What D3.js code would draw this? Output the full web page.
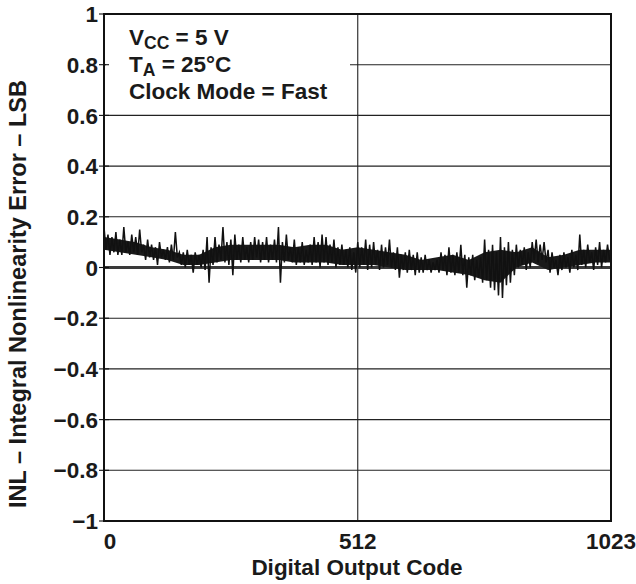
<!DOCTYPE html>
<html><head><meta charset="utf-8">
<script src="https://cdn.jsdelivr.net/npm/d3@7"></script>
<style>
body{margin:0;background:#fff;}
text{font-family:"Liberation Sans",Arial,Helvetica,sans-serif;font-weight:bold;fill:#1a1a1a;}
</style></head>
<body>
<svg id="c" width="636" height="584"></svg>
<script>
// ---- data ----
const yTicks = [-1, -0.8, -0.6, -0.4, -0.2, 0, 0.2, 0.4, 0.6, 0.8, 1];
const yTickLabels = ["\u22121", "\u22120.8", "\u22120.6", "\u22120.4", "\u22120.2", "0", "0.2", "0.4", "0.6", "0.8", "1"];
const xTicks = [0, 512, 1023];
const xTickLabels = ["0", "512", "1023"];
const codeStep = 4;
const inl = [
 0.16,0.07,0.13,0.05,0.12,0.06,0.14,0.05,
 0.11,0.05,0.16,0.06,0.10,0.05,0.13,0.06,
 0.12,0.05,0.15,0.06,0.09,0.03,0.11,0.04,
 0.09,0.03,0.08,0.01,0.10,0.04,0.07,0.03,
 0.08,0.02,0.09,0.03,0.14,0.04,0.06,0.01,
 0.06,0.00,0.07,0.01,0.05,-0.02,0.06,0.01,
 0.05,0.00,0.07,-0.01,0.12,-0.06,0.08,0.01,
 0.12,0.02,0.09,0.03,0.16,0.02,0.10,0.01,
 0.11,-0.03,0.13,0.03,0.09,0.02,0.12,0.03,
 0.08,0.02,0.10,0.03,0.12,0.04,0.11,0.02,
 0.10,0.03,0.12,0.02,0.09,0.03,0.11,0.02,
 0.16,-0.06,0.10,0.02,0.13,0.03,0.08,0.02,
 0.11,0.01,0.08,0.02,0.10,0.01,0.07,0.02,
 0.09,0.01,0.12,0.02,0.10,0.00,0.13,0.02,
 0.12,0.01,0.09,0.02,0.11,0.00,0.08,0.01,
 0.09,0.01,0.07,0.00,0.08,-0.01,0.06,-0.02,
 0.10,0.00,0.08,0.01,0.11,-0.01,0.09,0.00,
 0.10,0.01,0.07,-0.01,0.09,0.00,0.08,0.01,
 0.11,0.00,0.06,-0.01,0.08,-0.04,0.05,-0.01,
 0.06,-0.02,0.07,-0.01,0.05,-0.03,0.06,-0.02,
 0.04,-0.02,0.05,-0.01,0.03,-0.02,0.02,-0.01,
 0.03,-0.02,0.06,-0.01,0.05,-0.03,0.08,-0.02,
 0.05,-0.03,0.06,-0.02,0.09,-0.03,0.05,-0.08,
 0.04,-0.03,0.05,-0.05,0.03,-0.04,0.04,-0.06,
 0.11,-0.05,0.07,-0.08,0.09,-0.09,0.06,-0.11,
 0.12,-0.12,0.08,-0.07,0.10,-0.06,0.07,-0.03,
 0.09,0.00,0.07,0.01,0.08,-0.01,0.06,0.00,
 0.10,0.03,0.11,0.02,0.09,0.03,0.10,0.02,
 0.07,-0.02,0.06,0.00,0.03,-0.03,0.05,-0.01,
 0.06,0.00,0.04,-0.02,0.07,0.00,0.05,-0.01,
 0.13,0.01,0.07,0.00,0.09,0.02,0.06,-0.01,
 0.08,0.01,0.10,0.00,0.07,0.02,0.09,0.03
];
// dense core of the trace, every 32 codes
const coreCodes = [0,32,64,96,128,160,192,224,256,288,320,352,384,416,448,480,512,544,576,608,640,672,704,736,768,800,832,864,896,928,960,992,1023];
const coreHi = [0.12,0.11,0.10,0.08,0.07,0.05,0.05,0.08,0.09,0.09,0.09,0.09,0.08,0.09,0.09,0.07,0.08,0.07,0.06,0.05,0.03,0.04,0.05,0.03,0.06,0.07,0.06,0.08,0.04,0.05,0.07,0.07,0.07];
const coreLo = [0.07,0.06,0.05,0.04,0.03,0.01,0.01,0.02,0.03,0.03,0.03,0.03,0.02,0.02,0.02,0.01,0.01,0.01,0.00,-0.01,-0.01,-0.01,-0.02,-0.03,-0.05,-0.06,0.00,0.02,-0.01,0.00,0.01,0.02,0.02];
const notes = [
  {main:"V", sub:"CC", rest:" = 5 V"},
  {main:"T", sub:"A", rest:" = 25\u00b0C"},
  {main:"Clock Mode = Fast", sub:"", rest:""}
];
const xTitle = "Digital Output Code";
const yTitle = "INL \u2013 Integral Nonlinearity Error \u2013 LSB";

// ---- layout ----
const svg = d3.select("#c");
const L = 104, R = 611, T = 14, B = 521;
const x = d3.scaleLinear().domain([0, 1023]).range([L, R]);
const y = d3.scaleLinear().domain([-1, 1]).range([B, T]);
const fs = 22.5;

// grid
const g = svg.append("g");
g.selectAll("line.h").data(yTicks.filter(v => v > -1 && v < 1)).join("line")
  .attr("x1", L).attr("x2", R).attr("y1", d => y(d)).attr("y2", d => y(d))
  .attr("stroke", "#222").attr("stroke-width", 1.1);
g.append("line").attr("x1", x(512)).attr("x2", x(512)).attr("y1", T).attr("y2", B)
  .attr("stroke", "#222").attr("stroke-width", 1.1);

// zero baseline (thick)
g.append("line").attr("x1", L).attr("x2", R).attr("y1", y(0)).attr("y2", y(0))
  .attr("stroke", "#3a3a3a").attr("stroke-width", 3);

// dense core
svg.append("path").datum(coreCodes.map((c, i) => [c, coreHi[i], coreLo[i]]))
  .attr("fill", "#1a1a1a")
  .attr("d", d3.area().x(d => x(d[0])).y0(d => y(d[2])).y1(d => y(d[1])));

// INL trace
const pts = inl.map((v, i) => [i * codeStep, v]);
svg.append("path").datum(pts)
  .attr("fill", "none").attr("stroke", "#111").attr("stroke-width", 1.5)
  .attr("d", d3.line().x(d => x(d[0])).y(d => y(d[1])));

// text box background
svg.append("rect").attr("x", L + 2).attr("y", T + 6).attr("width", 244).attr("height", 92).attr("fill", "#fff");

// frame
svg.append("rect").attr("x", L).attr("y", T).attr("width", R - L).attr("height", B - T)
  .attr("fill", "none").attr("stroke", "#111").attr("stroke-width", 2);

// y ticks + labels
const ya = svg.append("g");
ya.selectAll("line").data(yTicks).join("line")
  .attr("x1", L - 5).attr("x2", L + 5).attr("y1", d => y(d)).attr("y2", d => y(d))
  .attr("stroke", "#111").attr("stroke-width", 1.1);
ya.selectAll("text").data(yTicks).join("text")
  .attr("x", L - 6).attr("y", d => y(d)).attr("dy", "0.36em")
  .attr("text-anchor", "end").attr("font-size", fs)
  .text((d, i) => yTickLabels[i]);

// x labels
svg.selectAll("text.xl").data(xTicks).join("text").attr("class", "xl")
  .attr("x", (d, i) => x(d) + (i === 0 ? 6 : 0)).attr("y", 549)
  .attr("text-anchor", "middle").attr("font-size", fs)
  .text((d, i) => xTickLabels[i]);

// titles
svg.append("text").attr("x", 357).attr("y", 575).attr("text-anchor", "middle")
  .attr("font-size", fs).text(xTitle);
svg.append("text").attr("transform", `translate(26,294) rotate(-90)`)
  .attr("text-anchor", "middle").attr("font-size", 23.5).text(yTitle);

// notes
notes.forEach((n, i) => {
  const t = svg.append("text").attr("x", 129).attr("y", 45 + i * 27).attr("font-size", fs);
  t.append("tspan").text(n.main);
  if (n.sub) t.append("tspan").attr("font-size", fs * 0.78).attr("dy", 4).text(n.sub);
  if (n.rest) t.append("tspan").attr("dy", n.sub ? -4 : 0).text(n.rest);
});
</script>
</body></html>
